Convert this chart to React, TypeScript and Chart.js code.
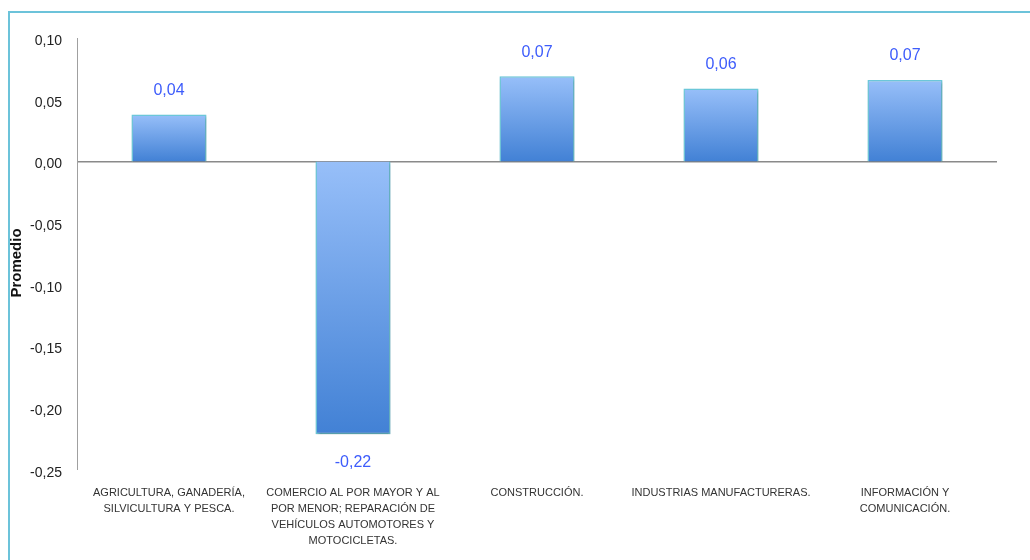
import React, { useEffect, useRef } from "react";
import { Chart, registerables } from "chart.js";

Chart.register(...registerables);

const categories: string[][] = [
  ["AGRICULTURA, GANADERÍA,", "SILVICULTURA Y PESCA."],
  ["COMERCIO AL POR MAYOR Y AL", "POR MENOR; REPARACIÓN DE", "VEHÍCULOS AUTOMOTORES Y", "MOTOCICLETAS."],
  ["CONSTRUCCIÓN."],
  ["INDUSTRIAS MANUFACTURERAS."],
  ["INFORMACIÓN Y", "COMUNICACIÓN."],
];
const promedio: number[] = [0.038, -0.221, 0.069, 0.059, 0.066];
const yMin = -0.25;
const yMax = 0.1;
const yStep = 0.05;
const yTitle = "Promedio";

const fmt = (v: number) => (Math.abs(v) < 1e-9 ? "0,00" : v.toFixed(2).replace(".", ","));

const framePlugin = {
  id: "frame",
  beforeDraw(chart: any) {
    const c = chart.ctx;
    c.save();
    c.strokeStyle = "#6cc3da";
    c.lineWidth = 2;
    c.strokeRect(9, 12, 1100, 700);
    c.restore();
  },
};

const titlePlugin = {
  id: "yTitle",
  afterDraw(chart: any) {
    const c = chart.ctx;
    const area = chart.chartArea;
    c.save();
    c.translate(17, (area.top + area.bottom) / 2 + 9);
    c.rotate(-Math.PI / 2);
    c.font = "bold 15px 'Liberation Sans', Arial, sans-serif";
    c.fillStyle = "#111111";
    c.textAlign = "center";
    c.textBaseline = "middle";
    c.fillText(yTitle, 0, 0);
    c.restore();
  },
};

const shadowPlugin = {
  id: "barShadow",
  beforeDatasetsDraw(chart: any) {
    const c = chart.ctx;
    c.save();
    c.shadowColor = "rgba(0,0,0,0.28)";
    c.shadowBlur = 3;
    c.shadowOffsetX = 1;
    c.shadowOffsetY = 2;
  },
  afterDatasetsDraw(chart: any) {
    chart.ctx.restore();
  },
};

const labelPlugin = {
  id: "valueLabels",
  afterDatasetsDraw(chart: any) {
    const c = chart.ctx;
    const meta = chart.getDatasetMeta(0);
    const data = chart.data.datasets[0].data as number[];
    c.save();
    c.font = "16px 'Liberation Sans', Arial, sans-serif";
    c.fillStyle = "#3d5cfb";
    c.textAlign = "center";
    c.textBaseline = "middle";
    meta.data.forEach((el: any, i: number) => {
      const v = data[i];
      const y = v >= 0 ? el.y - 24 : el.y + 28;
      c.fillText(fmt(v), el.x, y);
    });
    c.restore();
  },
};

export default function App() {
  const ref = useRef<HTMLCanvasElement | null>(null);

  useEffect(() => {
    document.body.style.margin = "0";
    const canvas = ref.current;
    if (!canvas) return;
    const chart = new Chart(canvas, {
      type: "bar",
      data: {
        labels: categories,
        datasets: [
          {
            label: yTitle,
            data: promedio,
            backgroundColor: (ctx: any) => {
              const ch = ctx.chart;
              const { chartArea, scales } = ch;
              if (!chartArea || ctx.type !== "data") return "#6a9ee8";
              const v = ctx.raw as number;
              const y0 = scales.y.getPixelForValue(0);
              const y1 = scales.y.getPixelForValue(v);
              const g = ch.ctx.createLinearGradient(0, Math.min(y0, y1), 0, Math.max(y0, y1) + 0.01);
              g.addColorStop(0, "#97bff9");
              g.addColorStop(1, "#4281d5");
              return g;
            },
            borderColor: "#6cc8da",
            borderWidth: 1.5,
            categoryPercentage: 1,
            barPercentage: 0.408,
          },
        ],
      },
      options: {
        responsive: false,
        animation: false,
        maintainAspectRatio: false,
        layout: { padding: { left: 0, top: 38, right: 33, bottom: 0 } },
        plugins: {
          legend: { display: false },
          tooltip: { enabled: false },
        },
        scales: {
          x: {
            offset: true,
            grid: { display: false, drawTicks: false },
            border: { display: false },
            ticks: {
              autoSkip: false,
              maxRotation: 0,
              minRotation: 0,
              padding: 15,
              color: "#333333",
              font: { family: "'Liberation Sans', Arial, sans-serif", size: 11, lineHeight: 1.45 },
            },
            afterFit: (s: any) => {
              s.height = 90;
            },
          },
          y: {
            min: yMin,
            max: yMax,
            ticks: {
              stepSize: yStep,
              padding: 15,
              labelOffset: 3,
              color: "#222222",
              font: { family: "'Liberation Sans', Arial, sans-serif", size: 14 },
              callback: (v: any) => fmt(Number(v)),
            },
            grid: {
              drawTicks: false,
              color: (ctx: any) =>
                ctx.tick && Math.abs(ctx.tick.value) < 1e-9 ? "#8a8a8a" : "rgba(0,0,0,0)",
              lineWidth: (ctx: any) => (ctx.tick && Math.abs(ctx.tick.value) < 1e-9 ? 1.6 : 0),
            },
            border: { display: true, color: "#a0a0a0", width: 1 },
            title: { display: false, text: yTitle },
            afterFit: (s: any) => {
              s.width = 77;
            },
          },
        },
      },
      plugins: [framePlugin, shadowPlugin, labelPlugin, titlePlugin],
    } as any);
    return () => chart.destroy();
  }, []);

  return <canvas ref={ref} width={1030} height={560} style={{ display: "block" }} />;
}
